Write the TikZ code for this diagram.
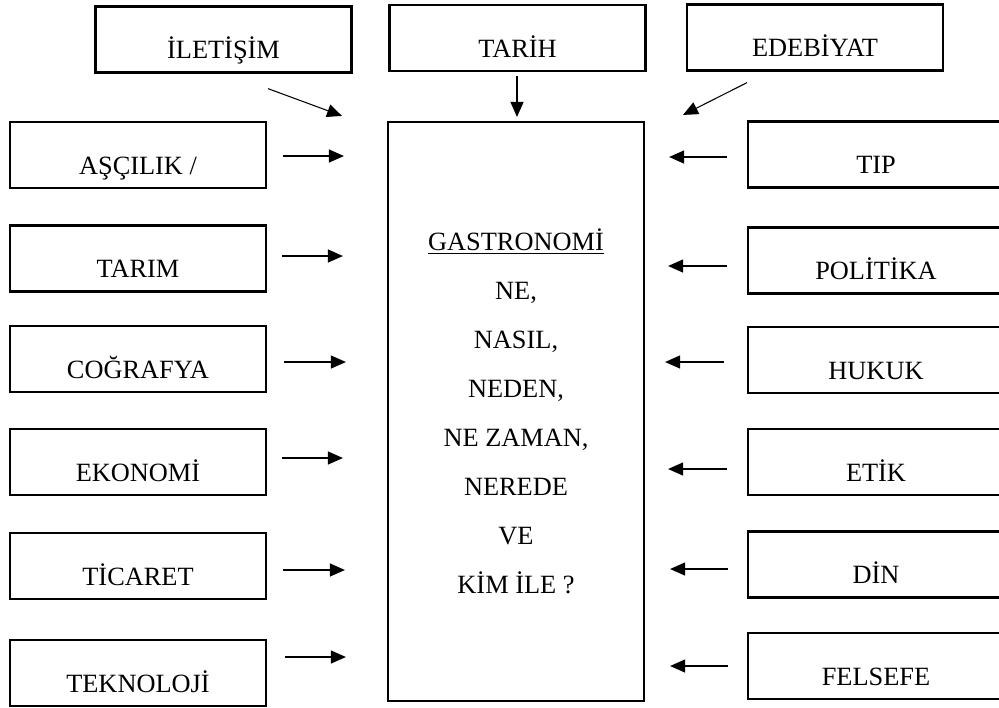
\documentclass[tikz,border=0pt]{standalone}
\usepackage{fontspec}
\setmainfont{Liberation Serif}
\usetikzlibrary{arrows.meta,calc}

\begin{document}
\begin{tikzpicture}[x=0.02cm,y=-0.02cm,font={\fontsize{15}{27.9}\selectfont},field/.style={shape=rectangle,draw=black,line width=1.3pt,minimum width=5.12cm,minimum height=1.32cm,inner sep=0pt,text height=0.76cm,text depth=0pt},core/.style={shape=rectangle,draw=black,line width=1.3pt,minimum width=5.12cm,minimum height=11.58cm,align=center},feed/.style={-{Triangle[length=8.5pt,width=7.4pt]},line width=0.6pt}]
\useasboundingbox (0,0) rectangle (999,707);

%CENTRE
\node[core] (gastro) at (516,411.5) {\underline{GASTRONOMİ}\\NE,\\NASIL,\\NEDEN,\\NE ZAMAN,\\NEREDE\\VE\\KİM İLE ?};

%TOP ROW
\node[field] (ilet) at (223.5,39.5) {İLETİŞİM};
\node[field] (tarih) at (517.5,38) {TARİH};
\node[field] (edeb) at (815,37.5) {EDEBİYAT};
\draw[feed] ($(ilet.south)+(44.5,15)$) -- ($(gastro.north)+(-174,-5)$);
\draw[feed] ($(tarih.south)+(-0.5,4)$) -- ($(gastro.north)+(1,-4)$);
\draw[feed] ($(edeb.south)+(-68,11)$) -- ($(gastro.north)+(167,-6)$);

%LEFT COLUMN
\node[field] (asc) at (138,155) {AŞÇILIK /};
\node[field] (tarim) at (138,258.5) {TARIM};
\node[field] (cog) at (138,359) {COĞRAFYA};
\node[field] (eko) at (138,462) {EKONOMİ};
\node[field] (tic) at (138,566) {TİCARET};
\node[field] (tek) at (138,673) {TEKNOLOJİ};
\draw[feed] ($(asc.east)+(16,1)$) -- ($(gastro.west|-asc.east)+(-43,1)$);
\draw[feed] ($(tarim.east)+(15,-2.5)$) -- ($(gastro.west|-tarim.east)+(-44,-2.5)$);
\draw[feed] ($(cog.east)+(17,3)$) -- ($(gastro.west|-cog.east)+(-41,3)$);
\draw[feed] ($(eko.east)+(15,-4)$) -- ($(gastro.west|-eko.east)+(-44,-4)$);
\draw[feed] ($(tic.east)+(16,4)$) -- ($(gastro.west|-tic.east)+(-42,4)$);
\draw[feed] ($(tek.east)+(18,-16)$) -- ($(gastro.west|-tek.east)+(-41,-16)$);

%RIGHT COLUMN
\node[field] (tip) at (876,154.5) {TIP};
\node[field] (pol) at (876,260.5) {POLİTİKA};
\node[field] (huk) at (876,360) {HUKUK};
\node[field] (etik) at (876,462) {ETİK};
\node[field] (din) at (876,564.5) {DİN};
\node[field] (fel) at (876,666) {FELSEFE};
\draw[feed] ($(tip.west)+(-20,2.5)$) -- ($(gastro.east|-tip.west)+(24,2.5)$);
\draw[feed] ($(pol.west)+(-20,5.5)$) -- ($(gastro.east|-pol.west)+(23,5.5)$);
\draw[feed] ($(huk.west)+(-23,2)$) -- ($(gastro.east|-huk.west)+(20,2)$);
\draw[feed] ($(etik.west)+(-20,7)$) -- ($(gastro.east|-etik.west)+(23,7)$);
\draw[feed] ($(din.west)+(-19,4.5)$) -- ($(gastro.east|-din.west)+(25,4.5)$);
\draw[feed] ($(fel.west)+(-19,0)$) -- ($(gastro.east|-fel.west)+(25,0)$);
\end{tikzpicture}
\end{document}
